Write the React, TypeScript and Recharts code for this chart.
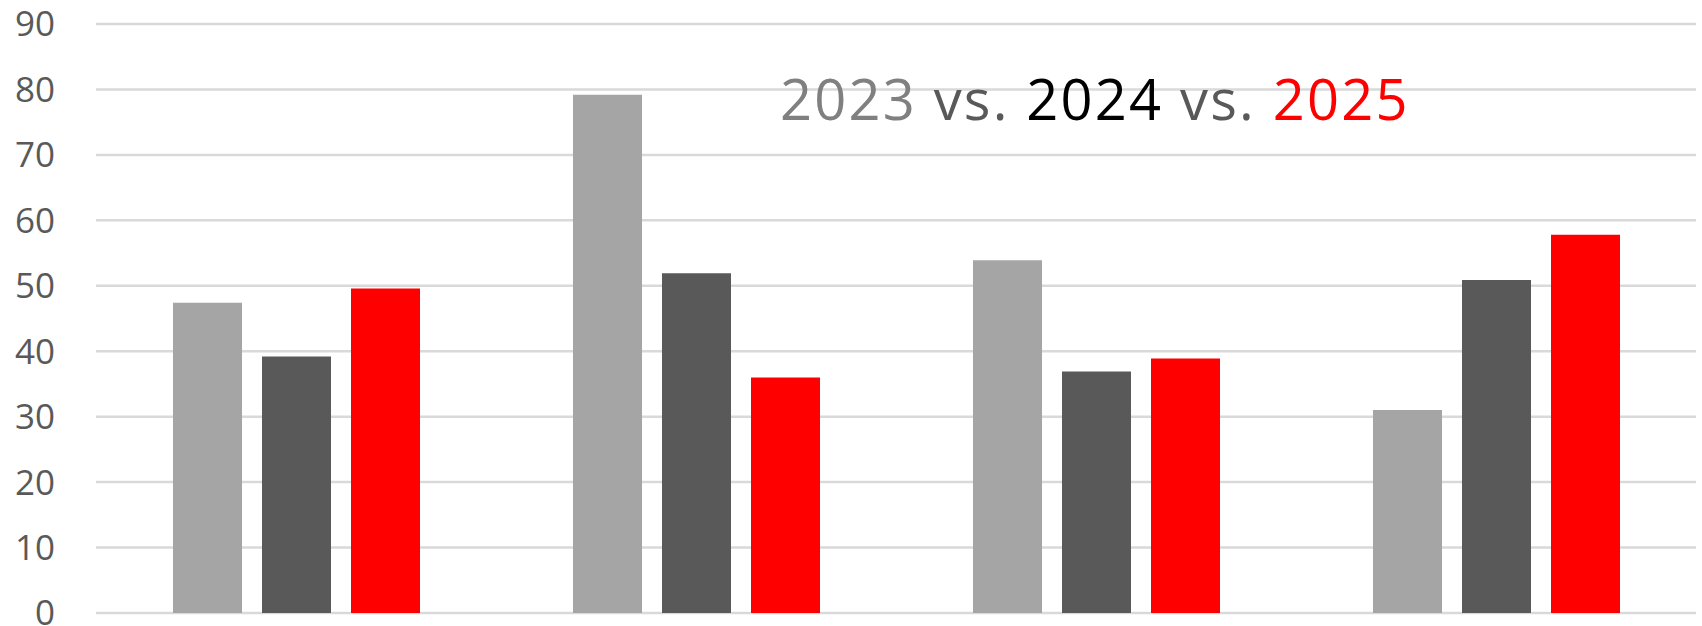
import React from 'react';
import { BarChart, Bar, XAxis, YAxis, CartesianGrid } from 'recharts';

const categories = ['Group 1', 'Group 2', 'Group 3', 'Group 4'];
const values2023 = [47.4, 79.2, 53.9, 31.0];
const values2024 = [39.2, 51.9, 36.9, 50.9];
const values2025 = [49.6, 36.0, 38.9, 57.8];
const yTicks = [0, 10, 20, 30, 40, 50, 60, 70, 80, 90];

const data = categories.map((c, i) => ({
  name: c,
  y2023: values2023[i],
  y2024: values2024[i],
  y2025: values2025[i],
}));

const W = 1702;
const H = 626;

export default function App() {
  return (
    <div style={{ position: 'fixed', left: 0, top: 0, width: W, height: H, background: '#ffffff' }}>
      <BarChart
        width={W}
        height={H}
        data={data}
        margin={{ top: 24, right: 6, bottom: 13, left: 0 }}
        barSize={69}
        barGap={20}
      >
        <CartesianGrid horizontal vertical={false} stroke="#d9d9d9" strokeWidth={2.5} />
        <XAxis dataKey="name" hide />
        <YAxis
          width={96}
          domain={[0, 90]}
          ticks={yTicks}
          interval={0}
          axisLine={false}
          tickLine={false}
          tickSize={0}
          tickMargin={41}
          tick={{ fill: '#595959', fontSize: 35, fontFamily: 'Open Sans' }}
        />
        <Bar dataKey="y2023" fill="#a5a5a5" isAnimationActive={false} />
        <Bar dataKey="y2024" fill="#595959" isAnimationActive={false} />
        <Bar dataKey="y2025" fill="#ff0000" isAnimationActive={false} />
      </BarChart>
      <svg
        width={W}
        height={H}
        style={{ position: 'absolute', left: 0, top: 0, pointerEvents: 'none' }}
      >
        <text x={780} y={120} fontFamily="Open Sans" fontSize={56} letterSpacing={2.2}>
          <tspan fill="#808080">2023</tspan>
          <tspan fill="#595959"> vs. </tspan>
          <tspan fill="#000000">2024</tspan>
          <tspan fill="#595959"> vs. </tspan>
          <tspan fill="#ff0000">2025</tspan>
        </text>
      </svg>
    </div>
  );
}
